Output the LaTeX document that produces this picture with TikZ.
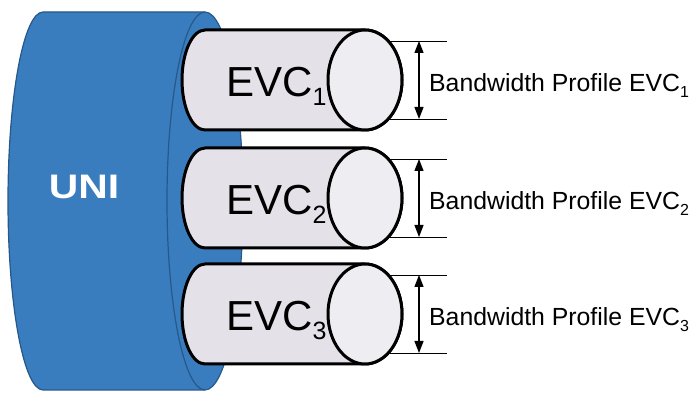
\documentclass[tikz,border=0pt]{standalone}
\usepackage{fontspec}
\setmainfont{Liberation Sans}
\usetikzlibrary{arrows.meta}
\definecolor{uniblue}{RGB}{58,125,191}
\definecolor{uniedge}{RGB}{38,88,138}
\definecolor{evcbody}{RGB}{228,226,232}
\definecolor{evcend}{RGB}{238,237,241}

\begin{document}
\begin{tikzpicture}[x=1pt,y=1pt,
  evcline/.style={line width=3pt, line join=round},
  dimline/.style={line width=0.8pt},
  dimarrow/.style={line width=1.3pt, {Triangle[length=12pt,width=9pt]}-{Triangle[length=12pt,width=9pt]}}]
  \useasboundingbox (0,0) rectangle (696,396);
  % UNI
  \filldraw[fill=uniblue, draw=uniedge, line width=1.2pt] (205,384) -- (43,384)
    arc[start angle=90, end angle=270, x radius=35, y radius=189] -- (205,6)
    arc[start angle=-90, end angle=90, x radius=38, y radius=189] -- cycle;
  \draw[uniedge, line width=1.2pt] (205,384) arc[start angle=90, end angle=270, x radius=38, y radius=189];
  \node[text=white, font=\fontsize{34}{34}\selectfont\bfseries] (uni) at (84,209) {\scalebox{1.2}[1]{UNI}};
  % EVCs and their bandwidth profiles
  \foreach \i/\cy in {1/316,2/198,3/82} {
    \filldraw[fill=evcbody, evcline] (365,\cy+50) -- (205,\cy+50)
      arc[start angle=90, end angle=270, x radius=23, y radius=50] -- (365,\cy-50)
      arc[start angle=-90, end angle=90, x radius=37, y radius=50] -- cycle;
    \filldraw[fill=evcend, evcline] (365,\cy) ellipse[x radius=37, y radius=50];
    \node[anchor=base west, inner sep=0pt, font=\fontsize{42}{42}\selectfont] (evc\i) at (226,\cy-17)
      {EVC\raisebox{-9pt}{\fontsize{25}{25}\selectfont\i}};
    \coordinate (e\i t) at (388,\cy+39);
    \coordinate (e\i b) at (388,\cy-39);
    \coordinate (x\i t) at (447,\cy+39);
    \coordinate (x\i b) at (447,\cy-39);
    \coordinate (a\i t) at (419,\cy+39);
    \coordinate (a\i b) at (419,\cy-39);
    \draw[dimline] (e\i t) -- (x\i t);
    \draw[dimline] (e\i b) -- (x\i b);
    \draw[dimarrow] (a\i t) -- (a\i b);
    \node[anchor=base west, inner sep=0pt, font=\fontsize{24.8}{26}\selectfont] (bw\i) at (429,\cy-12)
      {Bandwidth Profile EVC\raisebox{-6pt}{\fontsize{16}{16}\selectfont\i}};
  }
\end{tikzpicture}
\end{document}
